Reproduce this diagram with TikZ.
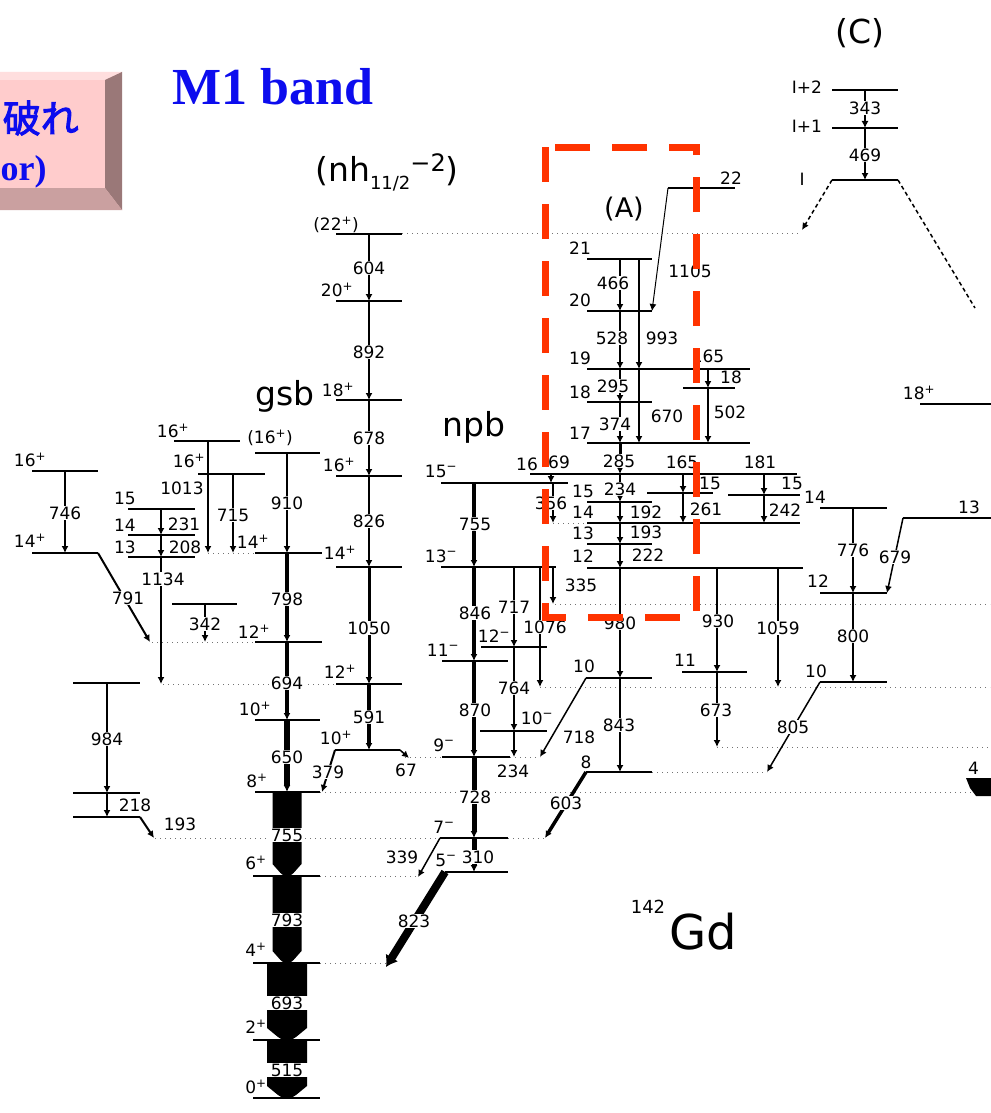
\documentclass[tikz,border=0pt]{standalone}
\usepackage{fontspec}
\setmainfont{DejaVu Sans}
\newfontfamily\cjkb[FakeBold=2.5]{Noto Sans CJK JP}
\newfontfamily\tmsb{Liberation Serif}
\usetikzlibrary{arrows.meta}
\definecolor{bblue}{RGB}{12,12,238}
\definecolor{pface}{RGB}{255,204,204}
\definecolor{ptop}{RGB}{255,222,222}
\definecolor{pright}{RGB}{154,120,120}
\definecolor{pbot}{RGB}{202,160,160}
\definecolor{dred}{RGB}{255,51,0}
\newcounter{nn}
\newcommand{\Lvl}[3]{\draw[lev] (#1,#3) -- (#2,#3);}
\newcommand{\Tr}[4][1.5]{\draw[line width=#1pt,-{Latex[length=7pt,width=7pt]}] (#2,#3) -- (#2,#4);}
\newcommand{\Num}[3]{\stepcounter{nn}\node[num] (t\arabic{nn}) at (#1,#2) {#3};}
\newcommand{\Lab}[3]{\stepcounter{nn}\node[slab] (t\arabic{nn}) at (#1,#2) {#3};}
\newcommand{\Dotl}[3]{\draw[dotl] (#1,#3) -- (#2,#3);}
\newcommand{\BigBar}[4]{\fill (#1-#4,#2) -- (#1+#4,#2) -- (#1+#4,#3-12) -- ({#1+0.45*#4},#3-3) -- ({#1+0.2*#4},#3) -- ({#1-0.2*#4},#3) -- ({#1-0.45*#4},#3-3) -- (#1-#4,#3-12) -- cycle;}
\newcommand{\Pp}{\textsuperscript{+}}
\newcommand{\Mm}{\textsuperscript{−}}
\begin{document}
\begin{tikzpicture}[x=1pt,y=-1pt,
 lev/.style={line width=1.3pt},
 dotl/.style={line width=1pt,black!55,dash pattern=on 1.2pt off 3.8pt},
 num/.style={fill=white,inner sep=0.8pt,font=\fontsize{17}{17}\selectfont},
 slab/.style={inner sep=0pt,font=\fontsize{17}{17}\selectfont},
 big/.style={inner sep=0pt,font=\fontsize{33}{33}\selectfont},
 slant/.style={-{Latex[length=7pt,width=7pt]}}]
\useasboundingbox (0,0) rectangle (990,1113);
\fill[white] (0,0) rectangle (990,1113);
% ---------- pink beveled box ----------
\fill[pface] (-5,72) rectangle (122,210);
\fill[ptop] (-5,72) -- (122,72) -- (105,80) -- (-5,80) -- cycle;
\fill[pright] (105,80) -- (122,72) -- (122,210) -- (105,188) -- cycle;
\fill[pbot] (-5,188) -- (105,188) -- (122,210) -- (-5,210) -- cycle;
\node[anchor=east,text=bblue,inner sep=0pt,font=\cjkb\fontsize{38}{38}\selectfont] (boxa) at (79,118) {破れ};
\node[anchor=west,text=bblue,inner sep=0pt,font=\tmsb\bfseries\fontsize{36}{36}\selectfont] (boxb) at (0.5,172) {or)};
\node[text=bblue,inner sep=0pt,font=\tmsb\bfseries\fontsize{52}{52}\selectfont] (mone) at (273,87) {M1 band};
% ---------- dotted lines ----------
\Dotl{402}{800}{233}
\Dotl{208}{255}{553}
\Dotl{152}{255}{642}
\Dotl{163}{337}{684}
\Dotl{540}{990}{687}
\Dotl{555}{990}{604}
\Dotl{405}{442}{757}
\Dotl{510}{540}{757}
\Dotl{717}{990}{747}
\Dotl{652}{767}{772}
\Dotl{320}{990}{792}
\Dotl{155}{440}{838}
\Dotl{508}{545}{838}
\Dotl{320}{418}{876}
\Dotl{320}{388}{963}
\Dotl{553}{587}{523}
% ---------- big labels ----------
\node[inner sep=0pt,font=\fontsize{33}{33}\selectfont] (lc) at (860,33) {(C)};
\node[inner sep=0pt] (lnh) at (387,172) {\fontsize{33}{33}\selectfont (nh\raisebox{-8pt}{\fontsize{18}{18}\selectfont 11/2}\raisebox{10pt}{\fontsize{24}{24}\selectfont −2})};
\node[big] (lgsb) at (285,396) {gsb};
\node[big] (lnpb) at (474,427) {npb};
\node[inner sep=0pt,font=\fontsize{27}{27}\selectfont] (la) at (624,209) {(A)};
\node[inner sep=0pt,font=\fontsize{48}{48}\selectfont] (lgd) at (703,932) {Gd};
\node[inner sep=0pt,font=\fontsize{18}{18}\selectfont] (l142) at (648,907) {142};
% ---------- band C ----------
\Lvl{832}{898}{90} \Lvl{832}{898}{128} \Lvl{832}{898}{180}
\Tr[1.2]{865}{90}{128} \Tr[1.5]{865}{128}{180}
\Num{865}{108}{343} \Num{865}{155}{469}
\Lab{807}{87}{I+2} \Lab{807}{126}{I+1} \Lab{802}{179}{I}
\draw[line width=1.5pt,dash pattern=on 4pt off 3pt,slant] (832,180) -- (802,230);
\draw[line width=1.5pt,dash pattern=on 4pt off 3pt] (898,180) -- (975,308);
\Lab{919}{393}{18\Pp}
\Lvl{920}{992}{404}
% ---------- nh band ----------
\Lvl{336}{402}{234} \Lvl{336}{402}{301} \Lvl{336}{402}{400} \Lvl{336}{402}{476}
\Lvl{336}{402}{567} \Lvl{336}{402}{684} \Lvl{335}{400}{750}
\Tr[1.2]{369}{234}{301} \Tr[1.5]{369}{301}{400} \Tr[2]{369}{400}{476}
\Tr[2.5]{369}{476}{567} \Tr[3]{369}{567}{684} \Tr[3.5]{369}{684}{750}
\Num{369}{268}{604} \Num{369}{352}{892} \Num{369}{438}{678}
\Num{369}{521}{826} \Num{369}{628}{1050} \Num{369}{717}{591}
\Lab{336}{225}{(22\Pp)} \Lab{337}{290}{20\Pp} \Lab{338}{390}{18\Pp}
\Lab{339}{465}{16\Pp} \Lab{340}{553}{14\Pp} \Lab{340}{672}{12\Pp} \Lab{336}{738}{10\Pp}
\draw[line width=2pt,slant] (335,750) -- (322,792);
\draw[line width=1.5pt,slant] (400,750) -- (409,758);
\Num{328}{772}{379} \Num{406}{770}{67}
% ---------- gsb ----------
\Lvl{255}{320}{453} \Lvl{255}{322}{553} \Lvl{255}{322}{642} \Lvl{255}{320}{720}
\Lvl{255}{320}{792} \Lvl{253}{320}{876} \Lvl{253}{320}{963} \Lvl{253}{320}{1040} \Lvl{253}{320}{1098}
\Tr[1.5]{287}{453}{553} \Tr[3.5]{287}{553}{642} \Tr[4.5]{287}{642}{720} \Tr[6]{287}{720}{792}
\BigBar{287}{792}{876}{14.5}
\BigBar{287}{876}{963}{14.5}
\BigBar{287}{963}{1040}{20}
\BigBar{287}{1040}{1098}{20}
\Num{287}{503}{910} \Num{287}{599}{798} \Num{287}{683}{694} \Num{287}{757}{650}
\Num{287}{835}{755} \Num{287}{920}{793}
\node[num,minimum width=44pt] (n693) at (287,1003) {693};
\node[num,minimum width=44pt] (n515) at (287,1070) {515};
\Lab{270}{438}{(16\Pp)} \Lab{253}{542}{14\Pp} \Lab{254}{632}{12\Pp} \Lab{255}{709}{10\Pp}
\Lab{257}{781}{8\Pp} \Lab{256}{863}{6\Pp} \Lab{256}{950}{4\Pp} \Lab{256}{1027}{2\Pp} \Lab{256}{1087}{0\Pp}
% ---------- left side ----------
\Lvl{32}{98}{471} \Lvl{32}{98}{553}
\Tr[1.5]{65}{471}{553} \Num{65}{513}{746}
\Lab{30}{460}{16\Pp} \Lab{30}{541}{14\Pp}
\draw[line width=2pt,slant] (98,553) -- (150,642);
\Num{128}{598}{791}
\Lvl{128}{195}{509} \Lvl{128}{195}{535} \Lvl{128}{195}{557}
\Lab{125}{498}{15} \Lab{125}{525}{14} \Lab{125}{547}{13}
\Tr[1.5]{161}{509}{535} \Tr[1.5]{161}{535}{557} \Tr[2]{161}{557}{684}
\Num{184}{524}{231} \Num{185}{547}{208} \Num{163}{579}{1134}
\Lvl{174}{240}{441} \Lvl{198}{265}{474}
\Lab{173}{431}{16\Pp} \Lab{189}{461}{16\Pp}
\Tr[1.5]{208}{441}{553} \Tr[1.5]{233}{474}{553}
\Num{182}{488}{1013} \Num{233}{515}{715}
\Lvl{172}{237}{604} \Tr[1.5]{205}{604}{642} \Num{205}{624}{342}
\Lvl{73}{140}{683} \Lvl{73}{140}{793} \Lvl{73}{140}{817}
\Tr[1.5]{107}{683}{793} \Tr[1.5]{107}{793}{817}
\Num{107}{739}{984} \Num{135}{805}{218}
\draw[line width=2pt,slant] (140,817) -- (154,838);
\Num{180}{824}{193}
% ---------- npb ----------
\Lvl{441}{568}{483} \Lvl{441}{556}{567} \Lvl{442}{508}{661} \Lvl{481}{547}{647}
\Lvl{480}{547}{731} \Lvl{442}{510}{757} \Lvl{440}{508}{838} \Lvl{445}{508}{872}
\Lab{441}{471}{15\Mm} \Lab{441}{556}{13\Mm} \Lab{443}{650}{11\Mm} \Lab{494}{636}{12\Mm}
\Lab{537}{718}{10\Mm} \Lab{444}{745}{9\Mm} \Lab{444}{827}{7\Mm} \Lab{446}{860}{5\Mm}
\Tr[4]{474}{483}{567} \Tr[4]{474}{567}{661} \Tr[4.5]{474}{661}{757} \Tr[5]{474}{757}{838}
\Tr[5]{474}{838}{872}
\Num{475}{524}{755} \Num{475}{613}{846} \Num{475}{710}{870} \Num{475}{797}{728} \Num{478}{857}{310}
\Tr[1.5]{514}{567}{647} \Tr[1.5]{514}{647}{731} \Tr[1.5]{514}{731}{757}
\Num{514}{607}{717} \Num{514}{688}{764} \Num{513}{771}{234}
\Tr[1.5]{540}{567}{687} \Num{545}{627}{1076}
\Tr[1.5]{553}{567}{604} \Num{581}{585}{335}
\draw[line width=1.5pt,slant] (440,838) -- (418,877);
\Num{402}{857}{339}
\draw[line width=8pt,-{Latex[length=11pt,width=15pt]}] (445,872) -- (386,967);
\Num{414}{921}{823}
\Lvl{586}{652}{678} \Lvl{586}{652}{772}
\Lab{584}{666}{10} \Lab{586}{762}{8}
\Tr[2.5]{620}{678}{772} \Num{619}{725}{843}
\draw[line width=1.5pt,slant] (586,678) -- (540,757);
\Num{579}{737}{718}
\draw[line width=3.5pt,slant] (586,772) -- (545,838);
\Num{566}{803}{603}
% ---------- band A ----------
\Lvl{668}{735}{188} \Lab{731}{178}{22}
\Lvl{587}{652}{259} \Lvl{587}{652}{311} \Lvl{587}{750}{369} \Lvl{587}{652}{402} \Lvl{587}{750}{443}
\Lvl{683}{735}{388}
\Lab{580}{248}{21} \Lab{580}{300}{20} \Lab{580}{358}{19} \Lab{580}{392}{18} \Lab{580}{433}{17}
\Lab{731}{377}{18}
\draw[line width=1pt,slant] (668,188) -- (652,311);
\Num{690}{271}{1105}
\Tr[2.5]{620}{259}{311} \Tr[2.5]{620}{311}{369} \Tr[2.5]{620}{369}{402} \Tr[2.5]{620}{402}{443}
\Num{613}{283}{466} \Num{612}{338}{528} \Num{613}{386}{295} \Num{615}{424}{374}
\Tr[1.5]{639}{259}{369} \Tr[1.5]{639}{369}{443}
\Num{662}{338}{993} \Num{667}{416}{670}
\Tr[1.5]{708}{369}{388} \Tr[2]{708}{388}{443}
\Num{708}{356}{165} \Num{730}{412}{502}
\Lvl{530}{797}{474} \Lvl{587}{652}{502} \Lvl{587}{800}{523} \Lvl{587}{652}{544} \Lvl{587}{803}{568}
\Lvl{647}{713}{493} \Lvl{728}{800}{495} \Lvl{682}{747}{672}
\Lab{527}{464}{16} \Lab{583}{491}{15} \Lab{583}{512}{14} \Lab{583}{533}{13} \Lab{583}{556}{12}
\Lab{710}{483}{15} \Lab{792}{483}{15} \Lab{685}{660}{11}
\Tr[3]{620}{443}{474} \Num{619}{461}{285}
\Tr[1.5]{551}{474}{483} \Num{559}{462}{69}
\Tr[1.5]{553}{483}{523} \Num{551}{503}{356}
\Tr[2.5]{620}{474}{502} \Tr[2]{620}{502}{523} \Tr[2]{620}{523}{544} \Tr[2]{620}{544}{568}
\Num{620}{489}{234} \Num{646}{512}{192} \Num{646}{532}{193} \Num{648}{555}{222}
\Tr[2.5]{620}{568}{678} \Num{620}{623}{980}
\Tr[1.5]{683}{474}{493} \Tr[1.5]{683}{493}{523}
\Num{682}{462}{165} \Num{706}{509}{261}
\Tr[1.5]{764}{474}{495} \Tr[1.5]{764}{495}{523}
\Num{760}{462}{181} \Num{785}{510}{242}
\Tr[1.5]{717}{568}{672} \Tr[2]{717}{672}{747}
\Num{718}{621}{930} \Num{716}{710}{673}
\Tr[1.5]{778}{568}{687} \Num{778}{628}{1059}
% ---------- right band ----------
\Lvl{820}{887}{508} \Lvl{820}{887}{593} \Lvl{820}{887}{682} \Lvl{903}{992}{518}
\Lab{815}{497}{14} \Lab{818}{581}{12} \Lab{816}{671}{10}
\node[slab,anchor=west] (l13) at (958,507) {13};
\Tr[1.5]{853}{508}{593} \Tr[1.5]{853}{593}{682}
\Num{853}{550}{776} \Num{853}{636}{800}
\draw[line width=1.5pt,slant] (903,518) -- (887,593);
\Num{895}{557}{679}
\draw[line width=1.5pt,slant] (820,682) -- (767,772);
\Num{793}{727}{805}
\node[slab,anchor=west] (l4) at (968,768) {4};
\fill (966,778) -- (992,778) -- (992,796) -- (976,796) -- (970,788) -- cycle;
% ---------- red dashed frame ----------
\draw[dred,line width=7pt,dash pattern=on 35pt off 22pt] (545,147) rectangle (696,617);
\end{tikzpicture}
\end{document}
